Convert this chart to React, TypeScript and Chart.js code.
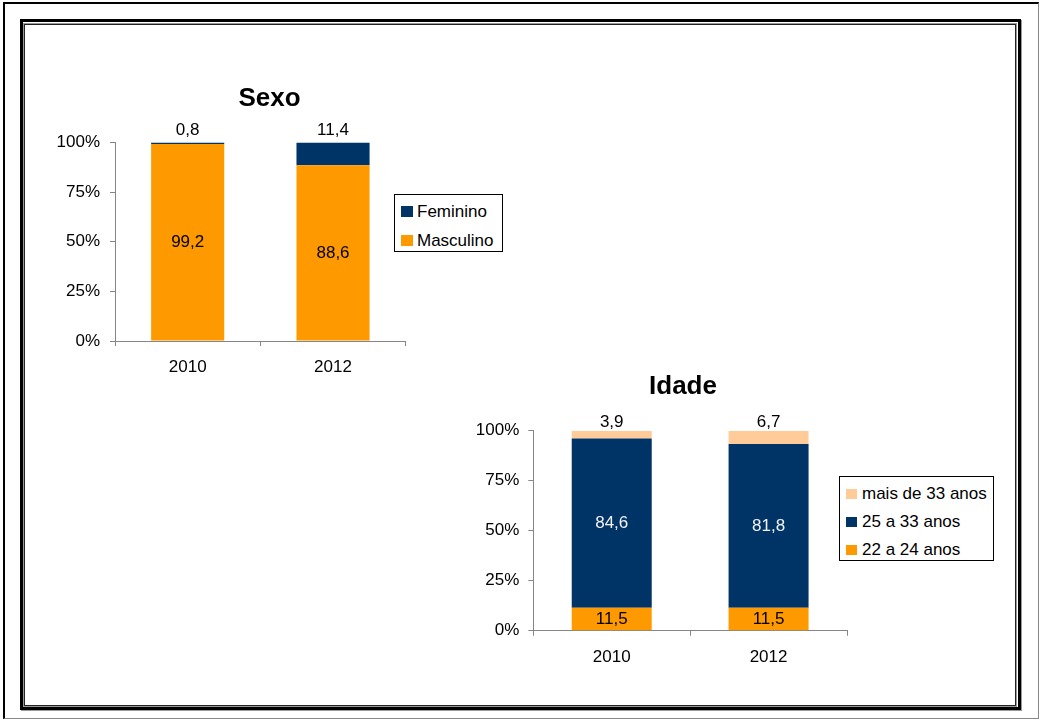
import React, { useEffect, useRef } from "react";
import { Chart, registerables } from "chart.js";

Chart.register(...registerables);

const FONT = '"Liberation Sans", Arial, Helvetica, sans-serif';

// ---- data ----
const years = ["2010", "2012"];
const yTickStep = 25;
const yMax = 100;

const sexoMasculino = [99.2, 88.6];
const sexoFeminino = [0.8, 11.4];

const idade22a24 = [11.5, 11.5];
const idade25a33 = [84.6, 81.8];
const idadeMais33 = [3.9, 6.7];

const ORANGE = "#FF9900";
const NAVY = "#003366";
const PEACH = "#FFCC99";
const AXIS = "#868686";

type Series = { label: string; data: number[]; color: string; labelColor: string; pos: "center" | "top" };

const sexoSeries: Series[] = [
  { label: "Masculino", data: sexoMasculino, color: ORANGE, labelColor: "#000", pos: "center" },
  { label: "Feminino", data: sexoFeminino, color: NAVY, labelColor: "#000", pos: "top" },
];

const idadeSeries: Series[] = [
  { label: "22 a 24 anos", data: idade22a24, color: ORANGE, labelColor: "#000", pos: "center" },
  { label: "25 a 33 anos", data: idade25a33, color: NAVY, labelColor: "#F2F2F2", pos: "center" },
  { label: "mais de 33 anos", data: idadeMais33, color: PEACH, labelColor: "#000", pos: "top" },
];

const valueLabels = {
  id: "valueLabels",
  afterDatasetsDraw(chart: any, _args: any, opts: any) {
    const ctx = chart.ctx;
    ctx.save();
    ctx.font = `17px ${FONT}`;
    ctx.textAlign = "center";
    ctx.textBaseline = "middle";
    chart.data.datasets.forEach((ds: any, i: number) => {
      const meta = chart.getDatasetMeta(i);
      meta.data.forEach((bar: any, j: number) => {
        const v = ds.data[j] as number;
        const text = v.toFixed(1).replace(".", ",");
        const { x, y, base } = bar.getProps(["x", "y", "base"], true);
        const ty = ds.labelPos === "top" ? Math.min(y, base) - opts.topOffset : (y + base) / 2;
        ctx.fillStyle = ds.labelColor;
        ctx.fillText(text, x, ty);
      });
    });
    ctx.restore();
  },
};

const fixedTitle = {
  id: "fixedTitle",
  afterDraw(chart: any, _args: any, opts: any) {
    const ctx = chart.ctx;
    ctx.save();
    ctx.font = `bold 26px ${FONT}`;
    ctx.fillStyle = "#000";
    ctx.textAlign = "center";
    ctx.textBaseline = "alphabetic";
    ctx.fillText(opts.text, opts.x, opts.y);
    ctx.restore();
  },
};

type ChartProps = {
  series: Series[];
  title: string;
  left: number;
  top: number;
  width: number;
  height: number;
  yWidth: number;
  padRight: number;
  padTop: number;
  padBottom: number;
  barPct: number;
  titleX: number;
  titleY: number;
  topOffset: number;
  yPad: number;
};

function StackChart(p: ChartProps) {
  const ref = useRef<HTMLCanvasElement | null>(null);
  useEffect(() => {
    if (!ref.current) return;
    const chart = new Chart(ref.current, {
      type: "bar",
      data: {
        labels: years,
        datasets: p.series.map((s) => ({
          label: s.label,
          data: s.data,
          backgroundColor: s.color,
          borderWidth: 0,
          barPercentage: p.barPct,
          categoryPercentage: 1,
          labelColor: s.labelColor,
          labelPos: s.pos,
        })) as any,
      },
      options: {
        responsive: false,
        animation: false,
        events: [],
        layout: { padding: { left: 0, right: p.padRight, top: p.padTop, bottom: p.padBottom } },
        plugins: {
          legend: { display: false },
          title: { display: false },
          tooltip: { enabled: false },
          valueLabels: { topOffset: p.topOffset },
          fixedTitle: { text: p.title, x: p.titleX, y: p.titleY },
        } as any,
        scales: {
          x: {
            stacked: true,
            offset: true,
            grid: { offset: true, drawOnChartArea: false, drawTicks: true, tickLength: 5, color: AXIS, lineWidth: 1 },
            border: { display: true, color: AXIS, width: 1 },
            ticks: { color: "#000", font: { family: FONT, size: 17 }, padding: 11, maxRotation: 0 },
            afterFit: (scale: any) => {
              scale.height = 40;
            },
          },
          y: {
            stacked: true,
            min: 0,
            max: yMax,
            grid: { drawOnChartArea: false, drawTicks: true, tickLength: 5, color: AXIS, lineWidth: 1 },
            border: { display: true, color: AXIS, width: 1 },
            ticks: {
              stepSize: yTickStep,
              color: "#000",
              font: { family: FONT, size: 17 },
              padding: p.yPad,
              callback: (v: any) => `${v}%`,
            },
            afterFit: (scale: any) => {
              scale.width = p.yWidth;
            },
          },
        },
      },
      plugins: [valueLabels, fixedTitle],
    });
    return () => chart.destroy();
  }, []);
  return (
    <canvas
      ref={ref}
      width={p.width}
      height={p.height}
      style={{ position: "absolute", left: p.left, top: p.top, width: p.width, height: p.height }}
    />
  );
}

type LegendProps = {
  series: Series[];
  left: number;
  top: number;
  width: number;
  height: number;
  padTop: number;
  rowH: number;
  swW: number;
  swH: number;
  gap: number;
};

function Legend(p: LegendProps) {
  const items = [...p.series].reverse();
  return (
    <div
      style={{
        position: "absolute",
        left: p.left,
        top: p.top,
        width: p.width,
        height: p.height,
        border: "1px solid #000",
        boxSizing: "border-box",
        background: "#fff",
        paddingTop: p.padTop,
        paddingLeft: 6,
        fontFamily: FONT,
        fontSize: 17,
        color: "#000",
      }}
    >
      {items.map((s) => (
        <div key={s.label} style={{ height: p.rowH, display: "flex", alignItems: "center", whiteSpace: "nowrap" }}>
          <span style={{ display: "inline-block", width: p.swW, height: p.swH, background: s.color, marginRight: p.gap }} />
          <span style={{ lineHeight: "20px" }}>{s.label}</span>
        </div>
      ))}
    </div>
  );
}

export default function App() {
  return (
    <div style={{ position: "absolute", left: 0, top: 0, width: 1041, height: 720, background: "#fff", overflow: "hidden" }}>
      {/* outer page border */}
      <div
        style={{
          position: "absolute",
          left: 3,
          top: 2,
          width: 1036,
          height: 717,
          boxSizing: "border-box",
          borderTop: "2px solid #000",
          borderLeft: "2px solid #000",
          borderRight: "1px solid #888",
          borderBottom: "1px solid #888",
        }}
      />
      {/* inner thick-thin frame */}
      <div
        style={{
          position: "absolute",
          left: 20,
          top: 19,
          width: 1001,
          height: 691,
          boxSizing: "border-box",
          border: "3px solid #000",
          boxShadow: "1px 1px 0 #999",
        }}
      />
      <div
        style={{
          position: "absolute",
          left: 24,
          top: 24,
          width: 992,
          height: 682,
          boxSizing: "border-box",
          border: "1px solid #222",
          outline: "1px solid #999",
        }}
      />
      <StackChart
        series={sexoSeries}
        title="Sexo"
        left={30}
        top={60}
        width={390}
        height={330}
        yWidth={85}
        padRight={14.3}
        padTop={82.5}
        padBottom={9}
        barPct={0.503}
        titleX={239.5}
        titleY={46}
        topOffset={12}
        yPad={10}
      />
      <StackChart
        series={idadeSeries}
        title="Idade"
        left={440}
        top={350}
        width={420}
        height={340}
        yWidth={93.3}
        padRight={13}
        padTop={80.7}
        padBottom={19.3}
        barPct={0.51}
        titleX={243}
        titleY={43.5}
        topOffset={8}
        yPad={9}
      />
      <Legend series={sexoSeries} left={394} top={194} width={109} height={58} padTop={2} rowH={29} swW={12} swH={11} gap={4} />
      <Legend series={idadeSeries} left={839} top={476} width={155} height={85} padTop={3} rowH={28} swW={11} swH={10} gap={5} />
    </div>
  );
}
